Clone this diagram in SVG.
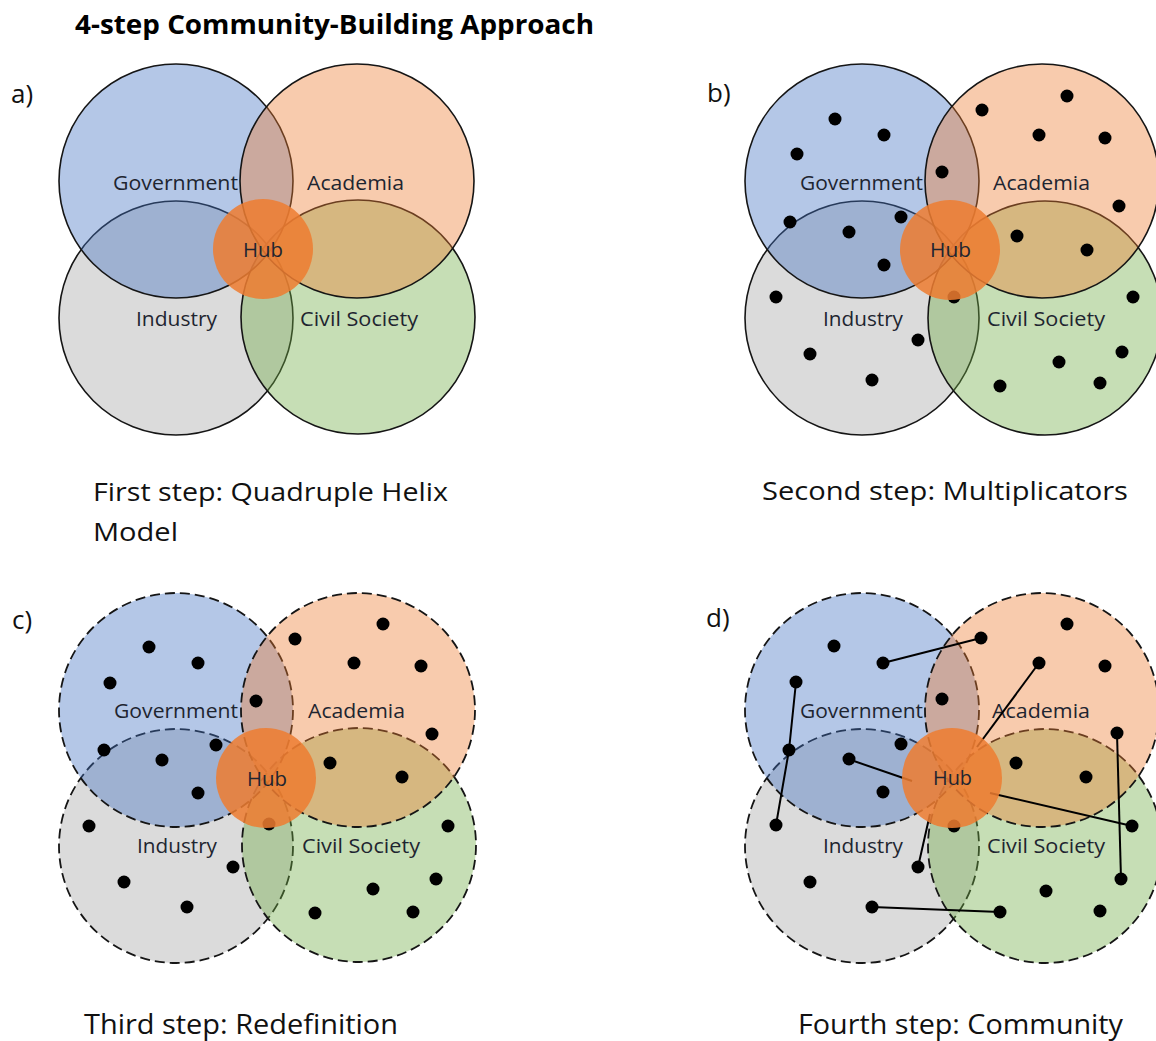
<svg xmlns="http://www.w3.org/2000/svg" width="1156" height="1041" viewBox="0 0 1156 1041">
<style>
  text { font-family: "Open Sans", "Noto Sans", "Liberation Sans", sans-serif; fill: #1e1e1e; }
  .title { font-size: 26px; font-weight: bold; fill: #000; }
  .cap { font-size: 26px; fill: #111; }
  .cap2 { font-size: 28px; fill: #111; }
  .plabel { font-size: 26px; fill: #111; }
  .lbl { font-size: 20.5px; fill: #1e2530; }
  .ring { stroke: #151515; stroke-width: 1.6; fill-opacity: 0.4; }
  .dash { stroke-dasharray: 10 5; stroke-width: 1.8; }
  .gov { fill: #4472c4; }
  .aca { fill: #ed7d31; }
  .ind { fill: #a5a5a5; }
  .civ { fill: #70ad47; }
  .hub { fill: #ed7d31; fill-opacity: 0.86; stroke: none; }
  .dot { fill: #000; }
  .link { stroke: #000; stroke-width: 2; fill: none; }
</style>
<rect width="1156" height="1041" fill="#ffffff"/>

<text class="title" x="75" y="34" textLength="519" lengthAdjust="spacingAndGlyphs">4-step Community-Building Approach</text>

<!-- Panel a -->
<g id="panel-a">
  <text class="plabel" x="11" y="103">a)</text>
  <g id="a-industry"><circle class="ring ind" cx="176" cy="318" r="117"/></g>
  <g id="a-civil"><circle class="ring civ" cx="358" cy="317" r="117"/></g>
  <g id="a-government"><circle class="ring gov" cx="176" cy="181" r="117"/></g>
  <g id="a-academia"><circle class="ring aca" cx="357" cy="181" r="117"/></g>
  <text class="lbl" x="113" y="190" textLength="125" lengthAdjust="spacingAndGlyphs">Government</text>
  <text class="lbl" x="307" y="190" textLength="97" lengthAdjust="spacingAndGlyphs">Academia</text>
  <text class="lbl" x="136" y="326" textLength="81" lengthAdjust="spacingAndGlyphs">Industry</text>
  <text class="lbl" x="300" y="326" textLength="118" lengthAdjust="spacingAndGlyphs">Civil Society</text>
  <g id="a-hub"><circle class="hub" cx="263" cy="249" r="50"/>
  <text class="lbl" x="243" y="257" textLength="40" lengthAdjust="spacingAndGlyphs">Hub</text></g>
  <text class="cap" x="93" y="501" textLength="355" lengthAdjust="spacingAndGlyphs">First step: Quadruple Helix</text>
  <text class="cap" x="93" y="541" textLength="85" lengthAdjust="spacingAndGlyphs">Model</text>
</g>

<!-- Panel b -->
<g id="panel-b">
  <text class="plabel" x="707" y="102">b)</text>
  <g id="b-industry"><circle class="ring ind" cx="862" cy="318" r="117"/></g>
  <g id="b-civil"><circle class="ring civ" cx="1045" cy="318" r="117"/></g>
  <g id="b-government"><circle class="ring gov" cx="862" cy="181" r="117"/></g>
  <g id="b-academia"><circle class="ring aca" cx="1042" cy="181" r="117"/></g>
  <text class="lbl" x="800" y="190" textLength="123" lengthAdjust="spacingAndGlyphs">Government</text>
  <text class="lbl" x="993" y="190" textLength="97" lengthAdjust="spacingAndGlyphs">Academia</text>
  <text class="lbl" x="823" y="326" textLength="80" lengthAdjust="spacingAndGlyphs">Industry</text>
  <text class="lbl" x="987" y="326" textLength="118" lengthAdjust="spacingAndGlyphs">Civil Society</text>
  <g id="b-dots" class="dot">
    <circle cx="835" cy="119" r="6.5"/><circle cx="884" cy="135" r="6.5"/><circle cx="797" cy="154" r="6.5"/>
    <circle cx="942" cy="172" r="6.5"/><circle cx="982" cy="110" r="6.5"/><circle cx="1067" cy="96" r="6.5"/>
    <circle cx="1039" cy="135" r="6.5"/><circle cx="1105" cy="138" r="6.5"/><circle cx="1119" cy="206" r="6.5"/>
    <circle cx="790" cy="222" r="6.5"/><circle cx="901" cy="217" r="6.5"/><circle cx="849" cy="232" r="6.5"/>
    <circle cx="884" cy="265" r="6.5"/><circle cx="1017" cy="236" r="6.5"/><circle cx="1087" cy="250" r="6.5"/>
    <circle cx="776" cy="297" r="6.5"/><circle cx="954" cy="297" r="6.5"/><circle cx="1133" cy="297" r="6.5"/>
    <circle cx="918" cy="340" r="6.5"/><circle cx="810" cy="354" r="6.5"/><circle cx="1122" cy="352" r="6.5"/>
    <circle cx="1059" cy="362" r="6.5"/><circle cx="872" cy="380" r="6.5"/><circle cx="1000" cy="386" r="6.5"/>
    <circle cx="1100" cy="383" r="6.5"/>
  </g>
  <g id="b-hub"><circle class="hub" cx="950" cy="250" r="50"/>
  <text class="lbl" x="930" y="257" textLength="41" lengthAdjust="spacingAndGlyphs">Hub</text></g>
  <text class="cap" x="762" y="500" textLength="366" lengthAdjust="spacingAndGlyphs">Second step: Multiplicators</text>
</g>

<!-- Panel c -->
<g id="panel-c">
  <text class="plabel" x="12" y="629">c)</text>
  <g id="c-industry"><circle class="ring dash ind" cx="176" cy="846" r="117"/></g>
  <g id="c-civil"><circle class="ring dash civ" cx="359" cy="845" r="117"/></g>
  <g id="c-government"><circle class="ring dash gov" cx="176" cy="710" r="117"/></g>
  <g id="c-academia"><circle class="ring dash aca" cx="358" cy="710" r="117"/></g>
  <text class="lbl" x="114" y="718" textLength="124" lengthAdjust="spacingAndGlyphs">Government</text>
  <text class="lbl" x="308" y="718" textLength="97" lengthAdjust="spacingAndGlyphs">Academia</text>
  <text class="lbl" x="137" y="853" textLength="80" lengthAdjust="spacingAndGlyphs">Industry</text>
  <text class="lbl" x="302" y="853" textLength="118" lengthAdjust="spacingAndGlyphs">Civil Society</text>
  <g id="c-dots" class="dot">
    <circle cx="149" cy="647" r="6.5"/><circle cx="198" cy="663" r="6.5"/><circle cx="110" cy="683" r="6.5"/>
    <circle cx="256" cy="701" r="6.5"/><circle cx="295" cy="639" r="6.5"/><circle cx="383" cy="624" r="6.5"/>
    <circle cx="354" cy="663" r="6.5"/><circle cx="421" cy="666" r="6.5"/><circle cx="432" cy="734" r="6.5"/>
    <circle cx="104" cy="750" r="6.5"/><circle cx="216" cy="745" r="6.5"/><circle cx="162" cy="760" r="6.5"/>
    <circle cx="198" cy="793" r="6.5"/><circle cx="330" cy="763" r="6.5"/><circle cx="402" cy="777" r="6.5"/>
    <circle cx="89" cy="826" r="6.5"/><circle cx="269" cy="824" r="6.5"/><circle cx="448" cy="826" r="6.5"/>
    <circle cx="233" cy="867" r="6.5"/><circle cx="124" cy="882" r="6.5"/><circle cx="436" cy="879" r="6.5"/>
    <circle cx="373" cy="889" r="6.5"/><circle cx="187" cy="907" r="6.5"/><circle cx="315" cy="913" r="6.5"/>
    <circle cx="413" cy="912" r="6.5"/>
  </g>
  <g id="c-hub"><circle class="hub" cx="266" cy="778" r="50"/>
  <text class="lbl" x="247" y="786" textLength="40" lengthAdjust="spacingAndGlyphs">Hub</text></g>
  <text class="cap2" x="84" y="1034" textLength="314" lengthAdjust="spacingAndGlyphs">Third step: Redefinition</text>
</g>

<!-- Panel d -->
<g id="panel-d">
  <text class="plabel" x="706" y="627">d)</text>
  <g id="d-industry"><circle class="ring dash ind" cx="862" cy="846" r="117"/></g>
  <g id="d-civil"><circle class="ring dash civ" cx="1045" cy="846" r="117"/></g>
  <g id="d-government"><circle class="ring dash gov" cx="862" cy="710" r="117"/></g>
  <g id="d-academia"><circle class="ring dash aca" cx="1042" cy="710" r="117"/></g>
  <text class="lbl" x="800" y="718" textLength="123" lengthAdjust="spacingAndGlyphs">Government</text>
  <text class="lbl" x="992" y="718" textLength="98" lengthAdjust="spacingAndGlyphs">Academia</text>
  <text class="lbl" x="823" y="853" textLength="80" lengthAdjust="spacingAndGlyphs">Industry</text>
  <text class="lbl" x="987" y="853" textLength="118" lengthAdjust="spacingAndGlyphs">Civil Society</text>
  <g id="connectors">
    <line class="link" x1="883" y1="663" x2="981" y2="638"/>
    <polyline class="link" points="796,682 789,750 776,825"/>
    <line class="link" x1="848" y1="759" x2="912" y2="781"/>
    <line class="link" x1="1039" y1="663" x2="977" y2="747"/>
    <line class="link" x1="990" y1="793" x2="1132" y2="826"/>
    <line class="link" x1="1117" y1="733" x2="1121" y2="879"/>
    <line class="link" x1="918" y1="867" x2="930" y2="814"/>
    <line class="link" x1="872" y1="907" x2="1000" y2="912"/>
  </g>
  <g id="d-dots" class="dot">
    <circle cx="834" cy="646" r="6.5"/><circle cx="883" cy="663" r="6.5"/><circle cx="796" cy="682" r="6.5"/>
    <circle cx="942" cy="699" r="6.5"/><circle cx="981" cy="638" r="6.5"/><circle cx="1067" cy="624" r="6.5"/>
    <circle cx="1039" cy="663" r="6.5"/><circle cx="1105" cy="666" r="6.5"/><circle cx="1117" cy="733" r="6.5"/>
    <circle cx="789" cy="750" r="6.5"/><circle cx="901" cy="744" r="6.5"/><circle cx="849" cy="759" r="6.5"/>
    <circle cx="883" cy="792" r="6.5"/><circle cx="1016" cy="763" r="6.5"/><circle cx="1086" cy="777" r="6.5"/>
    <circle cx="776" cy="825" r="6.5"/><circle cx="954" cy="826" r="6.5"/><circle cx="1132" cy="826" r="6.5"/>
    <circle cx="918" cy="867" r="6.5"/><circle cx="810" cy="882" r="6.5"/><circle cx="1121" cy="879" r="6.5"/>
    <circle cx="1046" cy="891" r="6.5"/><circle cx="872" cy="907" r="6.5"/><circle cx="1000" cy="912" r="6.5"/>
    <circle cx="1100" cy="911" r="6.5"/>
  </g>
  <g id="d-hub"><circle class="hub" cx="952" cy="778" r="50"/>
  <text class="lbl" x="933" y="785" textLength="39" lengthAdjust="spacingAndGlyphs">Hub</text></g>
  <text class="cap2" x="798" y="1034" textLength="325" lengthAdjust="spacingAndGlyphs">Fourth step: Community</text>
</g>
</svg>
